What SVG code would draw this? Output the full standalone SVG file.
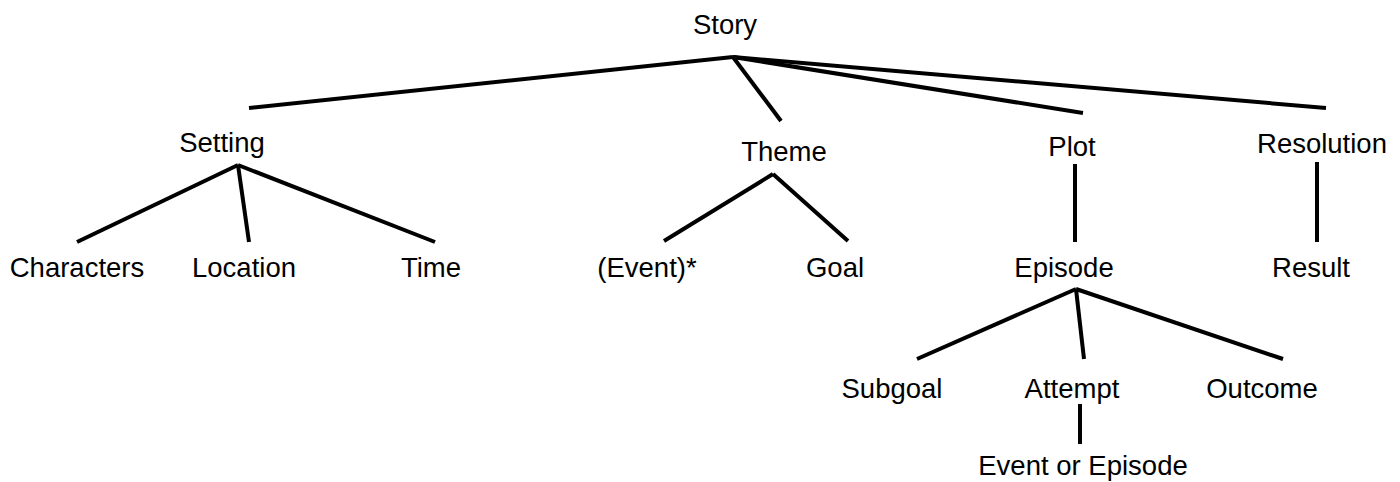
<svg xmlns="http://www.w3.org/2000/svg" width="1400" height="482" viewBox="0 0 1400 482">
  <style>
    .lbl { font-family: "Liberation Sans", Arial, sans-serif; font-size: 27.5px; fill: #000; text-anchor: middle; }
    .edge { stroke: #000; stroke-width: 4; fill: none; }
  </style>
  <rect width="1400" height="482" fill="#fff"/>
  <g id="connectors">
    <line class="edge" x1="733" y1="57" x2="249" y2="108"/>
    <line class="edge" x1="733" y1="57" x2="781" y2="121"/>
    <line class="edge" x1="733" y1="57" x2="1083" y2="113"/>
    <line class="edge" x1="733" y1="57" x2="1326" y2="108"/>
    <line class="edge" x1="238" y1="165" x2="77" y2="242"/>
    <line class="edge" x1="238" y1="165" x2="249" y2="242"/>
    <line class="edge" x1="238" y1="165" x2="435" y2="242"/>
    <line class="edge" x1="773" y1="174" x2="664" y2="241"/>
    <line class="edge" x1="773" y1="174" x2="848" y2="241"/>
    <line class="edge" x1="1075" y1="164" x2="1075" y2="242"/>
    <line class="edge" x1="1317" y1="162" x2="1317" y2="242"/>
    <line class="edge" x1="1076" y1="289" x2="917" y2="359"/>
    <line class="edge" x1="1076" y1="289" x2="1084" y2="359"/>
    <line class="edge" x1="1076" y1="289" x2="1283" y2="359"/>
    <line class="edge" x1="1080" y1="404" x2="1080" y2="444"/>
  </g>
  <g id="story"><text class="lbl" x="725" y="34">Story</text></g>
  <g id="setting"><text class="lbl" x="222" y="152">Setting</text></g>
  <g id="theme"><text class="lbl" x="784" y="161">Theme</text></g>
  <g id="plot"><text class="lbl" x="1072" y="156">Plot</text></g>
  <g id="resolution"><text class="lbl" x="1322" y="153">Resolution</text></g>
  <g id="characters"><text class="lbl" x="77" y="277">Characters</text></g>
  <g id="location"><text class="lbl" x="244" y="277">Location</text></g>
  <g id="time"><text class="lbl" x="431" y="277">Time</text></g>
  <g id="event-star"><text class="lbl" x="647" y="277">(Event)*</text></g>
  <g id="goal"><text class="lbl" x="835" y="277">Goal</text></g>
  <g id="episode"><text class="lbl" x="1064" y="277">Episode</text></g>
  <g id="result"><text class="lbl" x="1311" y="277">Result</text></g>
  <g id="subgoal"><text class="lbl" x="892" y="398">Subgoal</text></g>
  <g id="attempt"><text class="lbl" x="1072" y="398">Attempt</text></g>
  <g id="outcome"><text class="lbl" x="1262" y="398">Outcome</text></g>
  <g id="event-or-episode"><text class="lbl" x="1083" y="475">Event or Episode</text></g>
</svg>
